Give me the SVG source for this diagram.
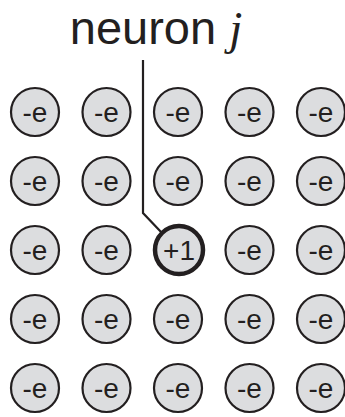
<svg xmlns="http://www.w3.org/2000/svg" width="345" height="417" viewBox="0 0 345 417">
<style>
.n circle{fill:#dcdddf;stroke:#231f20;stroke-width:2.2}
.n text{font-family:"Liberation Sans",Arial,sans-serif;font-size:28px;fill:#231f20;text-anchor:middle}
.c{fill:none;stroke:#231f20;stroke-width:2.2}
</style>
<rect width="345" height="417" fill="#fff"/>
<text x="156" y="44" font-family="Liberation Sans,Arial,sans-serif" font-size="47" fill="#231f20" text-anchor="middle">neuron <tspan font-family="Liberation Serif,serif" font-style="italic">j</tspan></text>
<g id="connectors"><path class="c" d="M143 60 V213 L162 233"/></g>
<g id="r1c1" class="n"><circle cx="35" cy="112" r="24"/><text x="35" y="122">-e</text></g>
<g id="r1c2" class="n"><circle cx="106.5" cy="112" r="24"/><text x="106.5" y="122">-e</text></g>
<g id="r1c3" class="n"><circle cx="178" cy="112" r="24"/><text x="178" y="122">-e</text></g>
<g id="r1c4" class="n"><circle cx="249.5" cy="112" r="24"/><text x="249.5" y="122">-e</text></g>
<g id="r1c5" class="n"><circle cx="321" cy="112" r="24"/><text x="321" y="122">-e</text></g>
<g id="r2c1" class="n"><circle cx="35" cy="181" r="24"/><text x="35" y="191">-e</text></g>
<g id="r2c2" class="n"><circle cx="106.5" cy="181" r="24"/><text x="106.5" y="191">-e</text></g>
<g id="r2c3" class="n"><circle cx="178" cy="181" r="24"/><text x="178" y="191">-e</text></g>
<g id="r2c4" class="n"><circle cx="249.5" cy="181" r="24"/><text x="249.5" y="191">-e</text></g>
<g id="r2c5" class="n"><circle cx="321" cy="181" r="24"/><text x="321" y="191">-e</text></g>
<g id="r3c1" class="n"><circle cx="35" cy="250" r="24"/><text x="35" y="260">-e</text></g>
<g id="r3c2" class="n"><circle cx="106.5" cy="250" r="24"/><text x="106.5" y="260">-e</text></g>
<g id="neuron-j" class="n"><circle cx="179" cy="250" r="24" style="stroke-width:4.5"/><text x="179" y="260">+1</text></g>
<g id="r3c4" class="n"><circle cx="249.5" cy="250" r="24"/><text x="249.5" y="260">-e</text></g>
<g id="r3c5" class="n"><circle cx="321" cy="250" r="24"/><text x="321" y="260">-e</text></g>
<g id="r4c1" class="n"><circle cx="35" cy="319" r="24"/><text x="35" y="329">-e</text></g>
<g id="r4c2" class="n"><circle cx="106.5" cy="319" r="24"/><text x="106.5" y="329">-e</text></g>
<g id="r4c3" class="n"><circle cx="178" cy="319" r="24"/><text x="178" y="329">-e</text></g>
<g id="r4c4" class="n"><circle cx="249.5" cy="319" r="24"/><text x="249.5" y="329">-e</text></g>
<g id="r4c5" class="n"><circle cx="321" cy="319" r="24"/><text x="321" y="329">-e</text></g>
<g id="r5c1" class="n"><circle cx="35" cy="388" r="24"/><text x="35" y="398">-e</text></g>
<g id="r5c2" class="n"><circle cx="106.5" cy="388" r="24"/><text x="106.5" y="398">-e</text></g>
<g id="r5c3" class="n"><circle cx="178" cy="388" r="24"/><text x="178" y="398">-e</text></g>
<g id="r5c4" class="n"><circle cx="249.5" cy="388" r="24"/><text x="249.5" y="398">-e</text></g>
<g id="r5c5" class="n"><circle cx="321" cy="388" r="24"/><text x="321" y="398">-e</text></g>
</svg>
